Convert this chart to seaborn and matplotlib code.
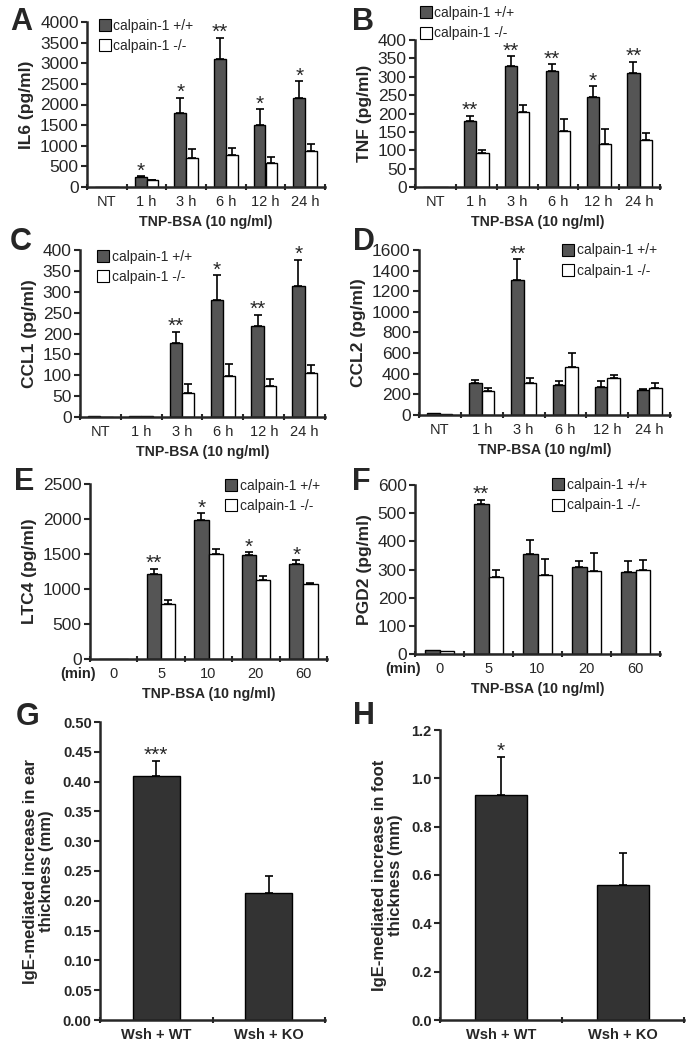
import numpy as np
import pandas as pd
import matplotlib
matplotlib.use("Agg")
import matplotlib.pyplot as plt
import seaborn as sns
from matplotlib.lines import Line2D

HOURS = ['NT', '1 h', '3 h', '6 h', '12 h', '24 h']
MINUTES = ['0', '5', '10', '20', '60']
GENOTYPES = ['calpain-1 +/+', 'calpain-1 -/-']
GROUPS = ['Wsh + WT', 'Wsh + KO']

# A - IL6
il6_wt = [0, 250, 1800, 3100, 1510, 2160]
il6_wt_err = [0, 10, 365, 520, 370, 400]
il6_ko = [0, 160, 710, 770, 590, 880]
il6_ko_err = [0, 15, 205, 185, 140, 160]
il6_stars = ['', '*', '*', '**', '*', '*']

# B - TNF
tnf_wt = [0, 179, 328, 316, 245, 311]
tnf_wt_err = [0, 15, 28, 18, 29, 29]
tnf_ko = [0, 92, 205, 153, 118, 129]
tnf_ko_err = [0, 8, 18, 33, 40, 18]
tnf_stars = ['', '**', '**', '**', '*', '**']

# C - CCL1
ccl1_wt = [2, 3, 178, 280, 218, 314]
ccl1_wt_err = [0, 0, 26, 59, 26, 63]
ccl1_ko = [0, 2, 58, 98, 74, 106]
ccl1_ko_err = [0, 0, 22, 28, 16, 18]
ccl1_stars = ['', '', '**', '*', '**', '*']

# D - CCL2
ccl2_wt = [15, 308, 1305, 292, 276, 240]
ccl2_wt_err = [0, 33, 205, 42, 55, 16]
ccl2_ko = [8, 234, 315, 468, 354, 266]
ccl2_ko_err = [0, 32, 42, 129, 36, 42]
ccl2_stars = ['', '', '**', '', '', '']

# E - LTC4
ltc4_wt = [0, 1210, 1980, 1486, 1357]
ltc4_wt_err = [0, 80, 100, 38, 53]
ltc4_ko = [0, 790, 1505, 1129, 1071]
ltc4_ko_err = [0, 48, 62, 52, 15]
ltc4_stars = ['', '**', '*', '*', '*']

# F - PGD2
pgd2_wt = [14, 531, 354, 309, 292]
pgd2_wt_err = [0, 17, 51, 22, 39]
pgd2_ko = [11, 272, 279, 294, 299]
pgd2_ko_err = [0, 27, 57, 64, 34]
pgd2_stars = ['', '**', '', '', '']

# G / H - tissue swelling
ear_vals = [0.41, 0.213]
ear_err = [0.025, 0.029]
ear_stars = ['***', '']
foot_vals = [0.93, 0.558]
foot_err = [0.16, 0.132]
foot_stars = ['*', '']

DARK = '#555555'
DARKER = '#333333'

sns.set_style('ticks')
plt.rcParams['font.family'] = ['Liberation Sans', 'DejaVu Sans']

W, H = 694, 1050
fig = plt.figure(figsize=(W / 100, H / 100), dpi=100)


def make_ax(left, top, right, bottom):
    return fig.add_axes([left / W, 1 - bottom / H, (right - left) / W, (bottom - top) / H])


def style_axes(ax, ncat, ymax, ystep, fmt, ytick_size=12.5, xtick_size=10.5, bold=False):
    sns.despine(ax=ax)
    for s in ['left', 'bottom']:
        ax.spines[s].set_linewidth(1.8)
    weight = 'bold' if bold else 'normal'
    ax.set_xlim(-0.5, ncat - 0.5)
    ax.set_ylim(0, ymax)
    ticks = np.arange(0, ymax + ystep / 2, ystep)
    ax.set_yticks(ticks)
    ax.set_yticklabels([fmt.format(v) for v in ticks], fontsize=ytick_size, fontweight=weight)
    ax.tick_params(axis='y', length=4, width=1.5, pad=2)
    labels = [t.get_text() for t in ax.get_xticklabels()]
    ax.set_xticks(np.arange(-0.5, ncat, 1))
    ax.set_xticklabels([])
    ax.tick_params(axis='x', which='major', length=5, width=1.5, direction='inout')
    ax.set_xticks(np.arange(ncat), minor=True)
    ax.set_xticklabels(labels, minor=True, fontsize=xtick_size, fontweight=weight)
    ax.tick_params(axis='x', which='minor', length=0, pad=6)


def add_errors(ax, containers, errs, stars=None, star_size=15):
    for bars, err in zip(containers, errs):
        for bar, e in zip(bars, err):
            if e > 0:
                x = bar.get_x() + bar.get_width() / 2
                ax.errorbar(x, bar.get_height(), yerr=[[0], [e]], fmt='none', ecolor='black',
                            elinewidth=1.2, capsize=3, capthick=1.2, zorder=1)
    if stars is not None:
        for bar, e, s in zip(containers[0], errs[0], stars):
            if s:
                x = bar.get_x() + bar.get_width() / 2
                ax.annotate(s, (x, bar.get_height() + e), xytext=(0, -3),
                            textcoords='offset points', ha='center', va='bottom',
                            fontsize=star_size)


def genotype_panel(ax, cats, wt, wt_err, ko, ko_err, stars, ylabel, ymax, ystep,
                   legend_anchor):
    df = pd.DataFrame({
        'cat': cats * 2,
        'val': wt + ko,
        'geno': [GENOTYPES[0]] * len(cats) + [GENOTYPES[1]] * len(cats),
    })
    sns.barplot(data=df, x='cat', y='val', hue='geno', order=cats, hue_order=GENOTYPES,
                palette={GENOTYPES[0]: DARK, GENOTYPES[1]: 'white'}, width=0.6,
                edgecolor='black', linewidth=1, legend=False, ax=ax, zorder=2)
    add_errors(ax, ax.containers, [wt_err, ko_err], stars)
    style_axes(ax, len(cats), ymax, ystep, '{:.0f}')
    ax.set_ylabel(ylabel, fontsize=12.5, fontweight='bold', labelpad=4)
    ax.set_xlabel('TNP-BSA (10 ng/ml)', fontsize=10.2, fontweight='bold', labelpad=4)
    handles = [Line2D([], [], marker='s', linestyle='none', markersize=8,
                      markerfacecolor=c, markeredgecolor='black', markeredgewidth=0.8)
               for c in [DARK, 'white']]
    ax.legend(handles, GENOTYPES, loc='upper left', bbox_to_anchor=legend_anchor,
              frameon=False, fontsize=10, handletextpad=0.15, handlelength=0.9,
              labelspacing=0.45, borderaxespad=0, borderpad=0)


def group_panel(ax, vals, err, stars, ylabel, ymax, ystep, fmt):
    df = pd.DataFrame({'grp': GROUPS, 'val': vals})
    sns.barplot(data=df, x='grp', y='val', order=GROUPS, color=DARKER, saturation=1,
                width=0.42, edgecolor='black', linewidth=1, ax=ax, zorder=2)
    add_errors(ax, ax.containers, [err], stars, star_size=15)
    style_axes(ax, 2, ymax, ystep, fmt, ytick_size=10.5, xtick_size=10.5, bold=True)
    ax.set_ylabel(ylabel, fontsize=12, fontweight='bold', labelpad=6, linespacing=1.1)
    ax.set_xlabel('')


axA = make_ax(87, 22, 325, 187)
genotype_panel(axA, HOURS, il6_wt, il6_wt_err, il6_ko, il6_ko_err, il6_stars,
               'IL6 (pg/ml)', 4000, 500, (0.05, 1.02))
axB = make_ax(415, 40, 660, 187)
genotype_panel(axB, HOURS, tnf_wt, tnf_wt_err, tnf_ko, tnf_ko_err, tnf_stars,
               'TNF (pg/ml)', 400, 50, (0.02, 1.23))
axC = make_ax(80, 250, 325, 417)
genotype_panel(axC, HOURS, ccl1_wt, ccl1_wt_err, ccl1_ko, ccl1_ko_err, ccl1_stars,
               'CCL1 (pg/ml)', 400, 50, (0.07, 1.0))
axD = make_ax(419, 250, 670, 415)
genotype_panel(axD, HOURS, ccl2_wt, ccl2_wt_err, ccl2_ko, ccl2_ko_err, ccl2_stars,
               'CCL2 (pg/ml)', 1600, 200, (0.57, 1.04))
axE = make_ax(90, 484, 327, 659)
genotype_panel(axE, MINUTES, ltc4_wt, ltc4_wt_err, ltc4_ko, ltc4_ko_err, ltc4_stars,
               'LTC4 (pg/ml)', 2500, 500, (0.57, 1.03))
axF = make_ax(415, 485, 660, 654)
genotype_panel(axF, MINUTES, pgd2_wt, pgd2_wt_err, pgd2_ko, pgd2_ko_err, pgd2_stars,
               'PGD2 (pg/ml)', 600, 100, (0.56, 1.04))
for ax in [axE, axF]:
    ax.annotate('(min)', xy=(0, 0), xycoords='axes fraction', xytext=(4, -6),
                textcoords='offset points', ha='right', va='top', fontsize=10.5,
                fontweight='bold')

axG = make_ax(100, 722, 325, 1020)
group_panel(axG, ear_vals, ear_err, ear_stars,
            'IgE-mediated increase in ear\nthickness (mm)', 0.5, 0.05, '{:.2f}')
axH = make_ax(440, 730, 684, 1020)
group_panel(axH, foot_vals, foot_err, foot_stars,
            'IgE-mediated increase in foot\nthickness (mm)', 1.2, 0.2, '{:.1f}')

for letter, x, y in [('A', 10, 30), ('B', 352, 30), ('C', 10, 250), ('D', 353, 250),
                     ('E', 14, 490), ('F', 352, 490), ('G', 16, 725), ('H', 353, 724)]:
    fig.text(x / W, 1 - y / H, letter, fontsize=22, fontweight='bold',
             ha='left', va='baseline')

fig.savefig('out.png', dpi=100)
